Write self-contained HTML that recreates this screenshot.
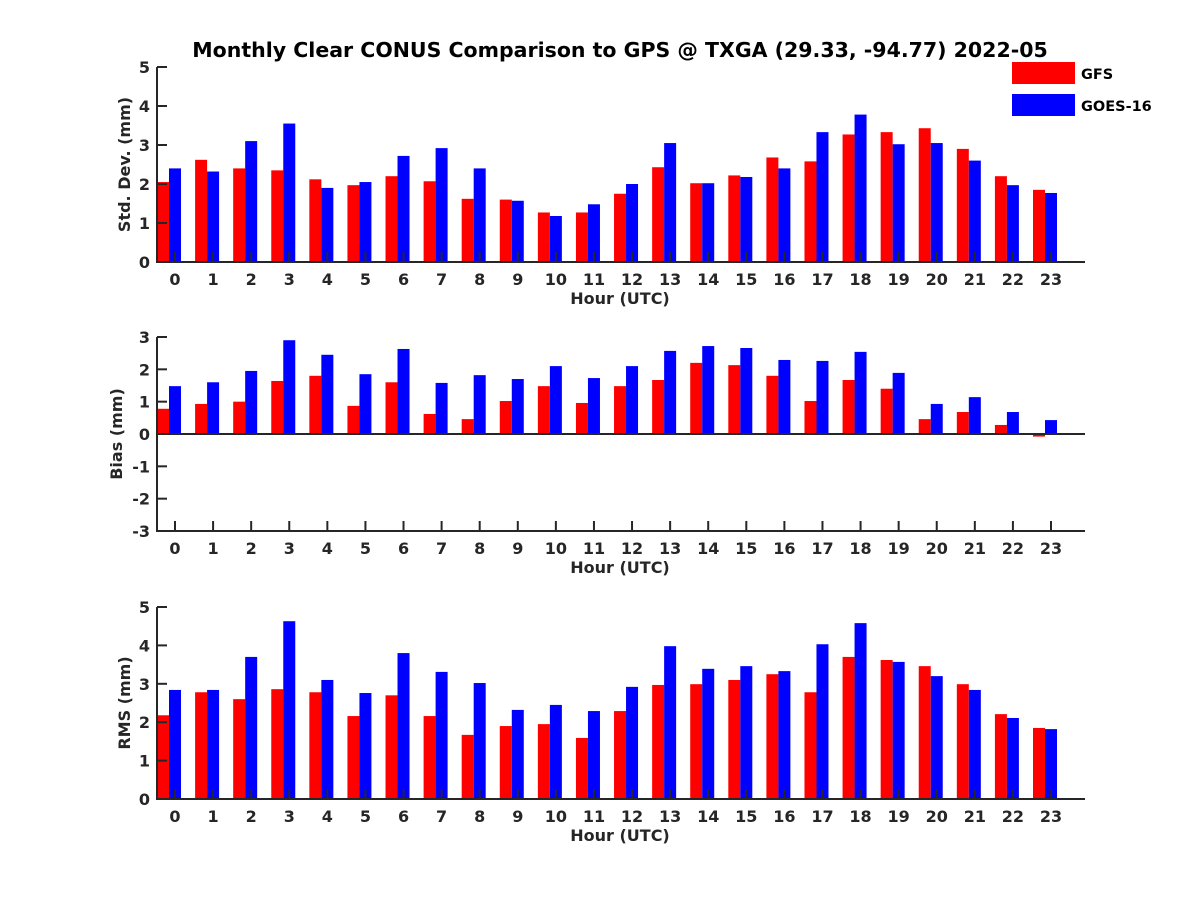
<!DOCTYPE html>
<html><head><meta charset="utf-8"><style>
html,body{margin:0;padding:0;background:#fff;}
svg{display:block;font-family:"DejaVu Sans","Liberation Sans",sans-serif;font-weight:bold;}
</style></head><body>
<svg id="c" width="1200" height="900" viewBox="0 0 1200 900">
<text x="620" y="57" text-anchor="middle" font-size="20.5" fill="#000">Monthly Clear CONUS Comparison to GPS @ TXGA (29.33, -94.77) 2022-05</text>
<g>
<rect x="1012" y="62" width="63" height="22" fill="#ff0000"/>
<text x="1081" y="79" font-size="14.5" fill="#000">GFS</text>
<rect x="1012" y="94" width="63" height="22" fill="#0000ff"/>
<text x="1081" y="111" font-size="14.5" fill="#000">GOES-16</text>
</g>
</svg>
<script>
const hours=[0,1,2,3,4,5,6,7,8,9,10,11,12,13,14,15,16,17,18,19,20,21,22,23];
const stdGFS=[2.05,2.62,2.4,2.35,2.12,1.97,2.2,2.07,1.62,1.6,1.27,1.27,1.75,2.43,2.02,2.22,2.68,2.58,3.27,3.33,3.43,2.9,2.2,1.85];
const stdGOES=[2.4,2.32,3.1,3.55,1.9,2.05,2.72,2.92,2.4,1.57,1.18,1.48,2.0,3.05,2.02,2.18,2.4,3.33,3.78,3.02,3.05,2.6,1.97,1.77];
const biasGFS=[0.78,0.93,1.0,1.64,1.8,0.87,1.6,0.62,0.46,1.02,1.48,0.96,1.48,1.67,2.2,2.13,1.8,1.02,1.67,1.4,0.46,0.68,0.28,-0.08];
const biasGOES=[1.48,1.6,1.95,2.9,2.45,1.85,2.63,1.58,1.82,1.7,2.1,1.73,2.1,2.57,2.72,2.66,2.29,2.26,2.54,1.89,0.93,1.14,0.68,0.43];
const rmsGFS=[2.18,2.78,2.6,2.86,2.78,2.16,2.7,2.16,1.67,1.9,1.95,1.59,2.29,2.97,2.99,3.1,3.25,2.78,3.7,3.62,3.46,2.99,2.21,1.85];
const rmsGOES=[2.84,2.84,3.7,4.63,3.1,2.76,3.8,3.31,3.02,2.32,2.45,2.29,2.92,3.98,3.39,3.46,3.33,4.03,4.58,3.57,3.2,2.84,2.11,1.82];
const stdTicks=[0,1,2,3,4,5];
const biasTicks=[-3,-2,-1,0,1,2,3];
const rmsTicks=[0,1,2,3,4,5];

const svg=document.getElementById('c');
const NS='http://www.w3.org/2000/svg';
function mk(tag,attrs,parent){const e=document.createElementNS(NS,tag);for(const k in attrs)e.setAttribute(k,attrs[k]);(parent||svg).appendChild(e);return e;}
const AX='#262626';
function panel(name,top,bottom,ymin,ymax,ticks,gfs,goes,ylabel,ylabelX){
  const g=mk('g',{});
  
  
  const L=157,R=1085;
  const y=v=>bottom-(v-ymin)/(ymax-ymin)*(bottom-top);
  const x=h=>175+h*(1051-175)/23;
  const y0=y(Math.max(0,ymin));
  hours.forEach((h,i)=>{
    [[gfs[i],'#ff0000',-18,'gfs'],[goes[i],'#0000ff',-6,'goes']].forEach(([v,c,off,s])=>{
      const a=y(v),b=y0;
      const r=mk('rect',{x:x(h)+off,y:Math.min(a,b),width:12,height:Math.abs(a-b),fill:c},g);
      
      
    });
  });
  if(ymin<0){const zl=mk('line',{x1:L,x2:R,y1:y0,y2:y0,stroke:AX,'stroke-width':2},g);
    }
  const xa=mk('line',{x1:L,x2:R,y1:bottom,y2:bottom,stroke:AX,'stroke-width':2},g);
  
  const ya=mk('line',{x1:L,x2:L,y1:top,y2:bottom+1,stroke:AX,'stroke-width':2},g);
  
  hours.forEach(h=>{
    mk('line',{x1:x(h),x2:x(h),y1:bottom,y2:bottom-10,stroke:AX,'stroke-width':2},g);
    const t=mk('text',{x:x(h),y:bottom+23,'text-anchor':'middle','font-size':16,fill:AX},g);
    t.textContent=h;
    
  });
  ticks.forEach(v=>{
    mk('line',{x1:L,x2:L+10,y1:y(v),y2:y(v),stroke:AX,'stroke-width':2},g);
    const t=mk('text',{x:150,y:y(v)+6,'text-anchor':'end','font-size':16,fill:AX},g);
    t.textContent=v;
    
  });
  const xl=mk('text',{x:620,y:bottom+42,'text-anchor':'middle','font-size':16,fill:AX},g);
  xl.textContent='Hour (UTC)';
  
  const cy=(top+bottom)/2;
  const yl=mk('text',{x:ylabelX,y:cy,'text-anchor':'middle','font-size':16,fill:AX,transform:`rotate(-90 ${ylabelX} ${cy})`},g);
  yl.textContent=ylabel;
  
}
panel('std',67,262,0,5,stdTicks,stdGFS,stdGOES,'Std. Dev. (mm)',130);
panel('bias',337,531,-3,3,biasTicks,biasGFS,biasGOES,'Bias (mm)',122);
panel('rms',607,799,0,5,rmsTicks,rmsGFS,rmsGOES,'RMS (mm)',130);
</script>
</body></html>
